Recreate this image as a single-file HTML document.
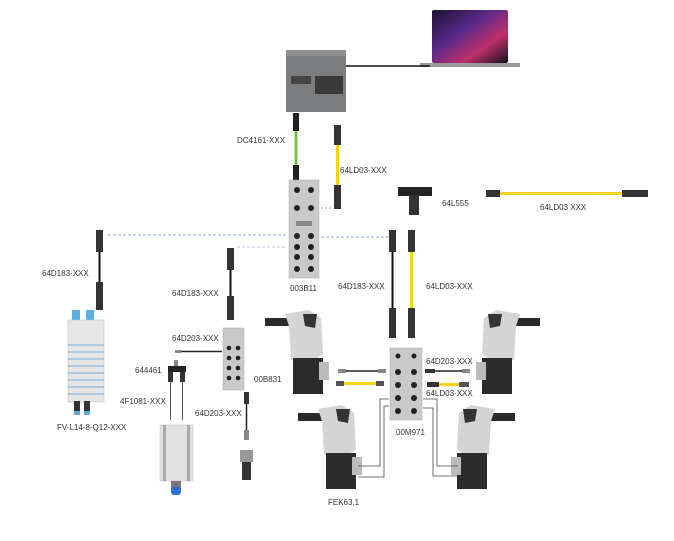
<!DOCTYPE html>
<html><head><meta charset="utf-8"><style>
html,body{margin:0;padding:0;background:#fff;}
svg{display:block;}
text{font-family:"Liberation Sans",sans-serif;font-size:8px;fill:#333;}
</style></head><body>
<svg width="674" height="541" viewBox="0 0 674 541" xmlns="http://www.w3.org/2000/svg">
<defs>
<linearGradient id="scr" x1="0" y1="0" x2="1" y2="1">
<stop offset="0" stop-color="#1a1030"/><stop offset="0.4" stop-color="#5a2a8a"/><stop offset="0.7" stop-color="#c0306a"/><stop offset="1" stop-color="#101020"/></linearGradient>
<g id="act">
<rect x="0" y="8" width="28" height="8" fill="#2a2a2a"/>
<path d="M20 4 L44 0 L56 8 L58 44 L50 50 L26 50 L24 16 Z" fill="#d4d4d4"/>
<path d="M38 4 L52 4 L50 18 L40 16 Z" fill="#333"/>
<rect x="28" y="48" width="30" height="36" fill="#2b2b2b"/>
<rect x="54" y="52" width="10" height="18" fill="#bbb"/>
</g>
</defs>
<!-- laptop -->
<rect x="432" y="10" width="76" height="53" rx="2" fill="url(#scr)"/>
<rect x="420" y="63" width="100" height="4" fill="#999"/>
<line x1="345" y1="66" x2="430" y2="66" stroke="#111" stroke-width="1.5"/>
<!-- PLC -->
<rect x="286" y="50" width="60" height="62" fill="#7a7c7e"/>
<rect x="286" y="50" width="60" height="6" fill="#8c8e90"/>
<rect x="315" y="76" width="28" height="18" fill="#3a3a3a"/>
<rect x="291" y="76" width="20" height="8" fill="#444"/>
<!-- green cable -->
<rect x="293" y="113" width="6" height="18" fill="#222"/>
<rect x="294.5" y="131" width="3" height="34" fill="#7bc043"/>
<rect x="293" y="165" width="6" height="16" fill="#222"/>
<text x="237" y="143">DC4161-XXX</text>
<!-- yellow vertical -->
<rect x="334" y="125" width="7" height="20" fill="#333"/>
<rect x="336" y="145" width="3" height="40" fill="#f2d21a"/>
<rect x="334" y="185" width="7" height="24" fill="#333"/>
<text x="340" y="173">64LD03-XXX</text>
<!-- 003B11 -->
<rect x="289" y="180" width="30" height="98" fill="#c9c9c9" stroke="#aaa" stroke-width="0.5"/>
<g fill="#222">
<circle cx="297" cy="190" r="3"/><circle cx="311" cy="190" r="3"/>
<circle cx="297" cy="208" r="3"/><circle cx="311" cy="208" r="3"/>
<circle cx="297" cy="236" r="3"/><circle cx="311" cy="236" r="3"/>
<circle cx="297" cy="247" r="3"/><circle cx="311" cy="247" r="3"/>
<circle cx="297" cy="257" r="3"/><circle cx="311" cy="257" r="3"/>
<circle cx="297" cy="269" r="3"/><circle cx="311" cy="269" r="3"/>
</g>
<rect x="296" y="221" width="16" height="5" fill="#888"/>
<text x="290" y="291">003B11</text>
<!-- T connector -->
<rect x="398" y="187" width="34" height="9" fill="#222"/>
<rect x="409" y="195" width="10" height="20" fill="#333"/>
<text x="442" y="206">64L555</text>
<!-- yellow horizontal -->
<rect x="486" y="190" width="14" height="7" fill="#333"/>
<rect x="500" y="192" width="122" height="3" fill="#f2d21a"/>
<rect x="622" y="190" width="26" height="7" fill="#333"/>
<text x="540" y="210">64LD03 XXX</text>
<!-- dashed lines -->
<line x1="108" y1="235" x2="287" y2="235" stroke="#5b8fc7" stroke-width="0.8" stroke-dasharray="3,2"/>
<line x1="237" y1="247" x2="287" y2="247" stroke="#9ab8d8" stroke-width="0.8" stroke-dasharray="3,2"/>
<line x1="321" y1="237" x2="390" y2="237" stroke="#5b8fc7" stroke-width="0.8" stroke-dasharray="3,2"/>
<line x1="321" y1="208" x2="333" y2="208" stroke="#5b8fc7" stroke-width="0.8" stroke-dasharray="2,2"/>
<!-- left cable -->
<rect x="96" y="230" width="7" height="22" fill="#333"/>
<rect x="98.5" y="252" width="2" height="30" fill="#111"/>
<rect x="96" y="282" width="7" height="28" fill="#333"/>
<text x="42" y="276">64D183-XXX</text>
<!-- valve terminal -->
<rect x="72" y="310" width="8" height="12" fill="#5aaee0"/><rect x="86" y="310" width="8" height="12" fill="#5aaee0"/>
<rect x="68" y="320" width="36" height="82" fill="#e6e6e6" stroke="#bbb" stroke-width="0.5"/>
<g stroke="#9bbfdc" stroke-width="1.5">
<line x1="68" y1="345" x2="104" y2="345"/><line x1="68" y1="352" x2="104" y2="352"/><line x1="68" y1="359" x2="104" y2="359"/><line x1="68" y1="366" x2="104" y2="366"/><line x1="68" y1="373" x2="104" y2="373"/><line x1="68" y1="380" x2="104" y2="380"/><line x1="68" y1="387" x2="104" y2="387"/><line x1="68" y1="394" x2="104" y2="394"/>
</g>
<rect x="74" y="401" width="6" height="14" fill="#333"/><rect x="84" y="401" width="6" height="14" fill="#333"/>
<rect x="74" y="411" width="6" height="4" fill="#5aaee0"/><rect x="84" y="411" width="6" height="4" fill="#5aaee0"/>
<text x="57" y="430">FV-L14-8-Q12-XXX</text>
<!-- cable 64D183 mid -->
<rect x="227" y="248" width="7" height="22" fill="#333"/>
<rect x="229.5" y="270" width="2" height="26" fill="#111"/>
<rect x="227" y="296" width="7" height="24" fill="#333"/>
<text x="172" y="296">64D183-XXX</text>
<!-- 00B831 -->
<rect x="223" y="328" width="21" height="62" fill="#c9c9c9" stroke="#aaa" stroke-width="0.5"/>
<g fill="#222">
<circle cx="229" cy="348" r="2.3"/><circle cx="238" cy="348" r="2.3"/>
<circle cx="229" cy="358" r="2.3"/><circle cx="238" cy="358" r="2.3"/>
<circle cx="229" cy="368" r="2.3"/><circle cx="238" cy="368" r="2.3"/>
<circle cx="229" cy="378" r="2.3"/><circle cx="238" cy="378" r="2.3"/>
</g>
<text x="254" y="382">00B831</text>
<text x="172" y="341">64D203-XXX</text>
<rect x="175" y="350" width="6" height="3" fill="#888"/>
<line x1="181" y1="351.5" x2="222" y2="351.5" stroke="#222" stroke-width="1.5"/>
<!-- Y connector -->
<text x="135" y="373">644461</text>
<rect x="174" y="360" width="4" height="6" fill="#888"/>
<rect x="168" y="366" width="18" height="6" fill="#222"/>
<rect x="168" y="372" width="5" height="10" fill="#333"/><rect x="180" y="372" width="5" height="10" fill="#333"/>
<line x1="170.5" y1="382" x2="170.5" y2="420" stroke="#555"/><line x1="182.5" y1="382" x2="182.5" y2="420" stroke="#555"/>
<text x="120" y="404">4F1081-XXX</text>
<!-- cylinder -->
<rect x="160" y="425" width="33" height="56" fill="#e2e2e2" stroke="#bbb" stroke-width="0.5"/>
<rect x="163" y="425" width="3" height="56" fill="#aaa"/><rect x="187" y="425" width="3" height="56" fill="#aaa"/>
<rect x="171" y="481" width="10" height="8" fill="#777"/>
<rect x="171" y="487" width="10" height="8" rx="3" fill="#2b6fd6"/>
<!-- sensor cable -->
<text x="195" y="416">64D203-XXX</text>
<rect x="244" y="392" width="5" height="12" fill="#333"/>
<line x1="246.5" y1="404" x2="246.5" y2="430" stroke="#222" stroke-width="1.5"/>
<rect x="244" y="430" width="5" height="10" fill="#888"/>
<rect x="240" y="450" width="13" height="12" fill="#999"/>
<rect x="242" y="462" width="9" height="18" fill="#333"/>
<!-- center cables -->
<rect x="389" y="230" width="7" height="22" fill="#333"/>
<rect x="391.5" y="252" width="2" height="60" fill="#111"/>
<rect x="389" y="308" width="7" height="30" fill="#333"/>
<rect x="408" y="230" width="7" height="22" fill="#333"/>
<rect x="410" y="252" width="3" height="60" fill="#f2d21a"/>
<rect x="408" y="308" width="7" height="30" fill="#333"/>
<text x="338" y="289">64D183-XXX</text>
<text x="426" y="289">64LD03-XXX</text>
<!-- 00M971 -->
<rect x="390" y="348" width="32" height="72" fill="#c9c9c9" stroke="#aaa" stroke-width="0.5"/>
<g fill="#222">
<circle cx="398" cy="356" r="2.5"/><circle cx="414" cy="356" r="2.5"/>
<circle cx="398" cy="372" r="3"/><circle cx="414" cy="372" r="3"/>
<circle cx="398" cy="385" r="3"/><circle cx="414" cy="385" r="3"/>
<circle cx="398" cy="398" r="3"/><circle cx="414" cy="398" r="3"/>
<circle cx="398" cy="411" r="3"/><circle cx="414" cy="411" r="3"/>
</g>
<text x="396" y="435">00M971</text>
<!-- actuators -->
<use href="#act" x="265" y="310"/>
<g transform="translate(540,310) scale(-1,1)"><use href="#act"/></g>
<use href="#act" x="298" y="405"/>
<g transform="translate(515,405) scale(-1,1)"><use href="#act"/></g>
<!-- short cables -->
<rect x="338" y="369" width="8" height="4" fill="#888"/><line x1="346" y1="371" x2="378" y2="371" stroke="#222" stroke-width="1.5"/><rect x="378" y="369" width="8" height="4" fill="#888"/>
<rect x="336" y="381" width="8" height="5" fill="#555"/><rect x="344" y="382" width="36" height="3" fill="#f2d21a"/><rect x="376" y="381" width="8" height="5" fill="#555"/>
<rect x="425" y="369" width="10" height="4" fill="#333"/><line x1="435" y1="371" x2="462" y2="371" stroke="#222" stroke-width="1.5"/><rect x="462" y="369" width="8" height="4" fill="#888"/>
<rect x="427" y="382" width="12" height="5" fill="#333"/><rect x="439" y="383" width="20" height="3" fill="#f2d21a"/><rect x="459" y="382" width="10" height="5" fill="#555"/>
<text x="426" y="364">64D203-XXX</text>
<text x="426" y="396">64LD03-XXX</text>
<!-- wires -->
<polyline points="389,399 380,399 380,466 358,466" fill="none" stroke="#444" stroke-width="0.8"/>
<polyline points="389,406 384,406 384,477 358,477" fill="none" stroke="#444" stroke-width="0.8"/>
<polyline points="423,399 437,399 437,466 458,466" fill="none" stroke="#444" stroke-width="0.8"/>
<polyline points="423,408 433,408 433,476 458,476" fill="none" stroke="#444" stroke-width="0.8"/>
<text x="328" y="505">FEK63.1</text>
</svg>
</body></html>
